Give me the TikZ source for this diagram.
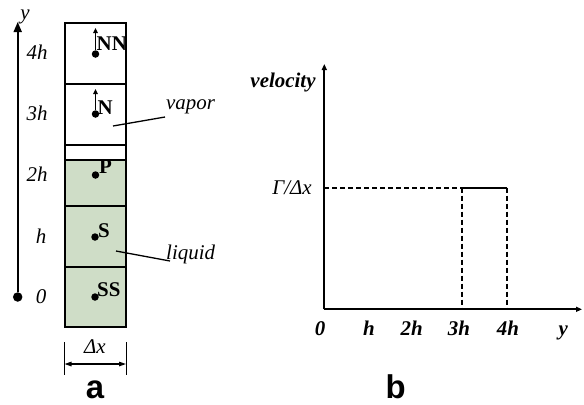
\documentclass[tikz,border=0pt]{standalone}
\usepackage{fontspec}
\setmainfont{Liberation Serif}
\newfontfamily\sansb{Liberation Sans}[BoldFont={* Bold}]
\usetikzlibrary{arrows.meta,calc}
\definecolor{liq}{RGB}{207,221,199}
\tikzset{
  lbl/.style={inner sep=0pt,font=\fontsize{21}{23}\selectfont\itshape},
  bl/.style={inner sep=0pt,font=\fontsize{21}{23}\selectfont\bfseries},
  bil/.style={inner sep=0pt,font=\fontsize{21}{23}\selectfont\bfseries\itshape},
  big/.style={inner sep=0pt,font=\fontsize{33}{35}\selectfont\sansb\bfseries},
  pt/.style={circle,fill=black,inner sep=0pt,minimum size=7.5bp},
  cell/.style={draw=black,line width=1.8bp},
  ax/.style={line width=1.8bp},
  dsh/.style={line width=1.8bp,dash pattern=on 5bp off 3bp},
}
\begin{document}
\begin{tikzpicture}[x=1bp,y=-1bp]
\useasboundingbox (0,0) rectangle (584,404);
% column cells
\fill[liq] (65,160) rectangle (126,327);
\draw[cell] (65,23) rectangle (126,327);
\draw[cell] (65,84) -- (126,84);
\draw[cell] (65,145) -- (126,145);
\draw[cell] (65,160) -- (126,160);
\draw[cell] (65,206) -- (126,206);
\draw[cell] (65,267) -- (126,267);
% points
\node[pt] (nn) at (95.5,54) {};
\node[pt] (n) at (95.5,114) {};
\node[pt] (p) at (95.5,175) {};
\node[pt] (s) at (95,237) {};
\node[pt] (ss) at (95,297) {};
\coordinate (nnt) at (95.5,28);
\coordinate (nt) at (95.5,89);
\draw[line width=1.3bp,-{Triangle[length=5bp,width=4.5bp]}] (nn) -- (nnt);
\draw[line width=1.3bp,-{Triangle[length=5bp,width=4.5bp]}] (n) -- (nt);
\node[bl,anchor=base west] (lnn) at (96.5,50) {NN};
\node[bl,anchor=base west] (ln) at (97.5,114) {N};
\node[bl,anchor=base west] (lp) at (99,173) {P};
\node[bl,anchor=base west] (ls) at (98,237) {S};
\node[bl,anchor=base west] (lss) at (97,296) {SS};
% left axis
\node[pt,minimum size=9.5bp] (o) at (17.7,297) {};
\coordinate (ytop) at (17.7,22);
\draw[ax,-{Triangle[length=10bp,width=8bp]}] (o) -- (ytop);
\node[lbl,anchor=base] (ly) at (25,19) {y};
\node[lbl,anchor=base] (t4) at (37,59) {4h};
\node[lbl,anchor=base] (t3) at (37,120) {3h};
\node[lbl,anchor=base] (t2) at (37,181) {2h};
\node[lbl,anchor=base] (t1) at (41,243) {h};
\node[lbl,anchor=base] (t0) at (41,303) {0};
% vapor / liquid
\node[lbl,anchor=base west] (vap) at (166,109) {vapor};
\coordinate (vp) at (113,126);
\coordinate (vq) at (165,117);
\draw[line width=1.3bp] (vp) -- (vq);
\node[lbl,anchor=base west] (liqd) at (166,259) {liquid};
\coordinate (lq) at (116,251);
\coordinate (lr) at (170,261);
\draw[line width=1.3bp] (lq) -- (lr);
% delta x
\coordinate (d1a) at (64.5,342); \coordinate (d1b) at (64.5,375);
\coordinate (d2a) at (126,342); \coordinate (d2b) at (126,375);
\draw[line width=1bp] (d1a) -- (d1b);
\draw[line width=1bp] (d2a) -- (d2b);
\coordinate (da) at (64.5,364); \coordinate (db) at (126,364);
\draw[line width=1.2bp,{Triangle[length=7bp,width=4.5bp]}-{Triangle[length=7bp,width=4.5bp]}] (da) -- (db);
\node[lbl,anchor=base] (dx) at (95,353) {Δx};
\node[big,anchor=base] (la) at (95,398) {a};
% right plot
\coordinate (org) at (324.3,309.3);
\coordinate (vtop) at (324.3,64);
\coordinate (xend) at (582,309.3);
\draw[ax,-{Triangle[length=6bp,width=5bp]}] (org) -- (vtop);
\draw[ax,-{Triangle[length=6bp,width=5bp]}] (org) -- (xend);
\node[bil,anchor=base] (vel) at (283,87) {velocity};
\node[lbl,anchor=base] (gam) at (292,194) {Γ/Δx};
\coordinate (g0) at (324.3,187.7);
\coordinate (g3) at (461.7,187.7);
\coordinate (g4) at (507.3,187.7);
\coordinate (b3) at (461.7,309.3);
\coordinate (b4) at (507.3,309.3);
\draw[dsh] (g0) -- (g3);
\draw[ax] (g3) -- (g4);
\draw[dsh] (g3) -- (b3);
\draw[dsh] (g4) -- (b4);
\node[bil,anchor=base] (x0) at (320,335) {0};
\node[bil,anchor=base] (x1) at (369,335) {h};
\node[bil,anchor=base] (x2) at (411.7,335) {2h};
\node[bil,anchor=base] (x3) at (459,335) {3h};
\node[bil,anchor=base] (x4) at (508,335) {4h};
\node[bil,anchor=base] (xy) at (563.3,335) {y};
\node[big,anchor=base] (lb) at (395.7,398) {b};
\end{tikzpicture}
\end{document}
